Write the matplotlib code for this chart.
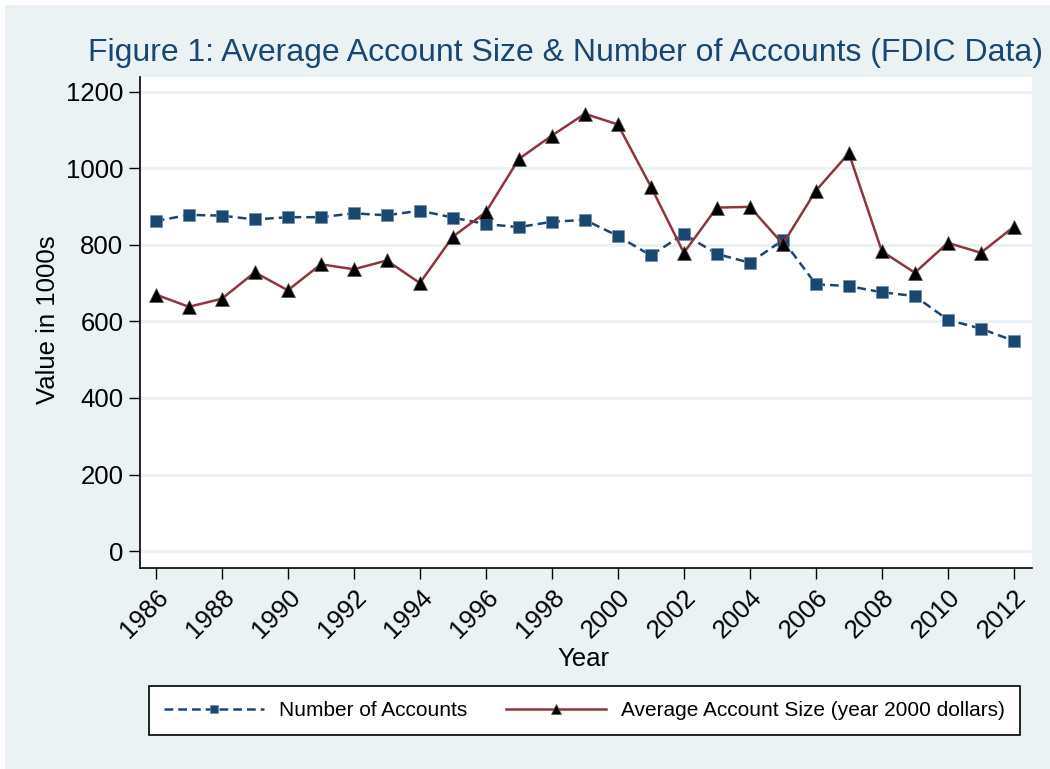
import matplotlib
matplotlib.use("Agg")
import matplotlib.pyplot as plt
import numpy as np
from matplotlib.patches import Rectangle

plt.rcParams["font.family"] = ["Liberation Sans", "DejaVu Sans"]

# data (values in 1000s)
years = np.arange(1986, 2013)
num_accounts = [862, 878, 876, 866, 872, 872, 882, 877, 889, 871,
                854, 846, 860, 865, 823, 772, 828, 776, 753, 812,
                697, 692, 676, 666, 604, 581, 549]
avg_size = [670, 638, 659, 728, 681, 749, 736, 759, 700, 821,
            885, 1024, 1085, 1142, 1114, 952, 779, 897, 899, 802,
            941, 1039, 783, 727, 805, 779, 847]
year_ticks = np.arange(1986, 2013, 2)
value_ticks = np.arange(0, 1201, 200)

bg = "#EAF2F3"
blue = "#1A476F"
red = "#90353B"

fig = plt.figure(figsize=(10.5, 7.69), dpi=100, facecolor="white")
# light stata-style background, small white margin top/left
fig.patches.append(Rectangle((5 / 1050, 0.5 / 769), 1, 1 - 5.5 / 769,
                             transform=fig.transFigure, facecolor=bg,
                             edgecolor="none", zorder=-10))

ax = fig.add_axes([140 / 1050, 1 - 568 / 769, 892 / 1050, 491 / 769])
ax.set_facecolor("white")

for v in value_ticks:
    ax.axhline(v, color=bg, lw=2.2, zorder=0)

ax.plot(years, num_accounts, color=blue, lw=1.8, linestyle=(0, (3.5, 2)),
        marker="s", markersize=8.2, markerfacecolor=blue,
        markeredgecolor="#6d8aa8", markeredgewidth=0.5,
        label="Number of Accounts", zorder=3)
ax.plot(years, avg_size, color=red, lw=1.8, marker="^", markersize=10,
        markerfacecolor="black", markeredgecolor="#555555",
        markeredgewidth=0.5,
        label="Average Account Size (year 2000 dollars)", zorder=4)

ax.set_xlim(1985.52, 2012.55)
ax.set_ylim(-44, 1238)
ax.set_yticks(value_ticks)
ax.set_xticks(year_ticks)
ax.set_xticklabels([str(y) for y in year_ticks], rotation=45, ha="right",
                   va="top", rotation_mode="anchor")
ax.tick_params(axis="both", labelsize=18.5, length=8, width=1, color="black",
               direction="out", pad=4)

for s in ["top", "right"]:
    ax.spines[s].set_visible(False)
for s in ["left", "bottom"]:
    ax.spines[s].set_color("black")
    ax.spines[s].set_linewidth(1.2)

ax.set_xlabel("Year", fontsize=18.5)
ax.xaxis.set_label_coords(0.497, -0.161)
ax.set_ylabel("Value in 1000s", fontsize=18.5)
ax.yaxis.set_label_coords(-0.0895, 0.505)

fig.text(566 / 1050, 1 - 53 / 769,
         "Figure 1: Average Account Size & Number of Accounts (FDIC Data)",
         ha="center", va="center", fontsize=23, color=blue)

leg = fig.legend(loc="center", bbox_to_anchor=(584.5 / 1050, 1 - 710.5 / 769),
                 ncol=2, fontsize=15, handlelength=4.8, handletextpad=0.7,
                 columnspacing=1.9, borderpad=0.7, markerscale=0.75,
                 frameon=True, fancybox=False)
leg.get_frame().set_edgecolor("black")
leg.get_frame().set_linewidth(1.2)
leg.get_frame().set_facecolor("white")
leg.get_frame().set_alpha(1)

fig.savefig("out.png", dpi=100, facecolor=fig.get_facecolor())
